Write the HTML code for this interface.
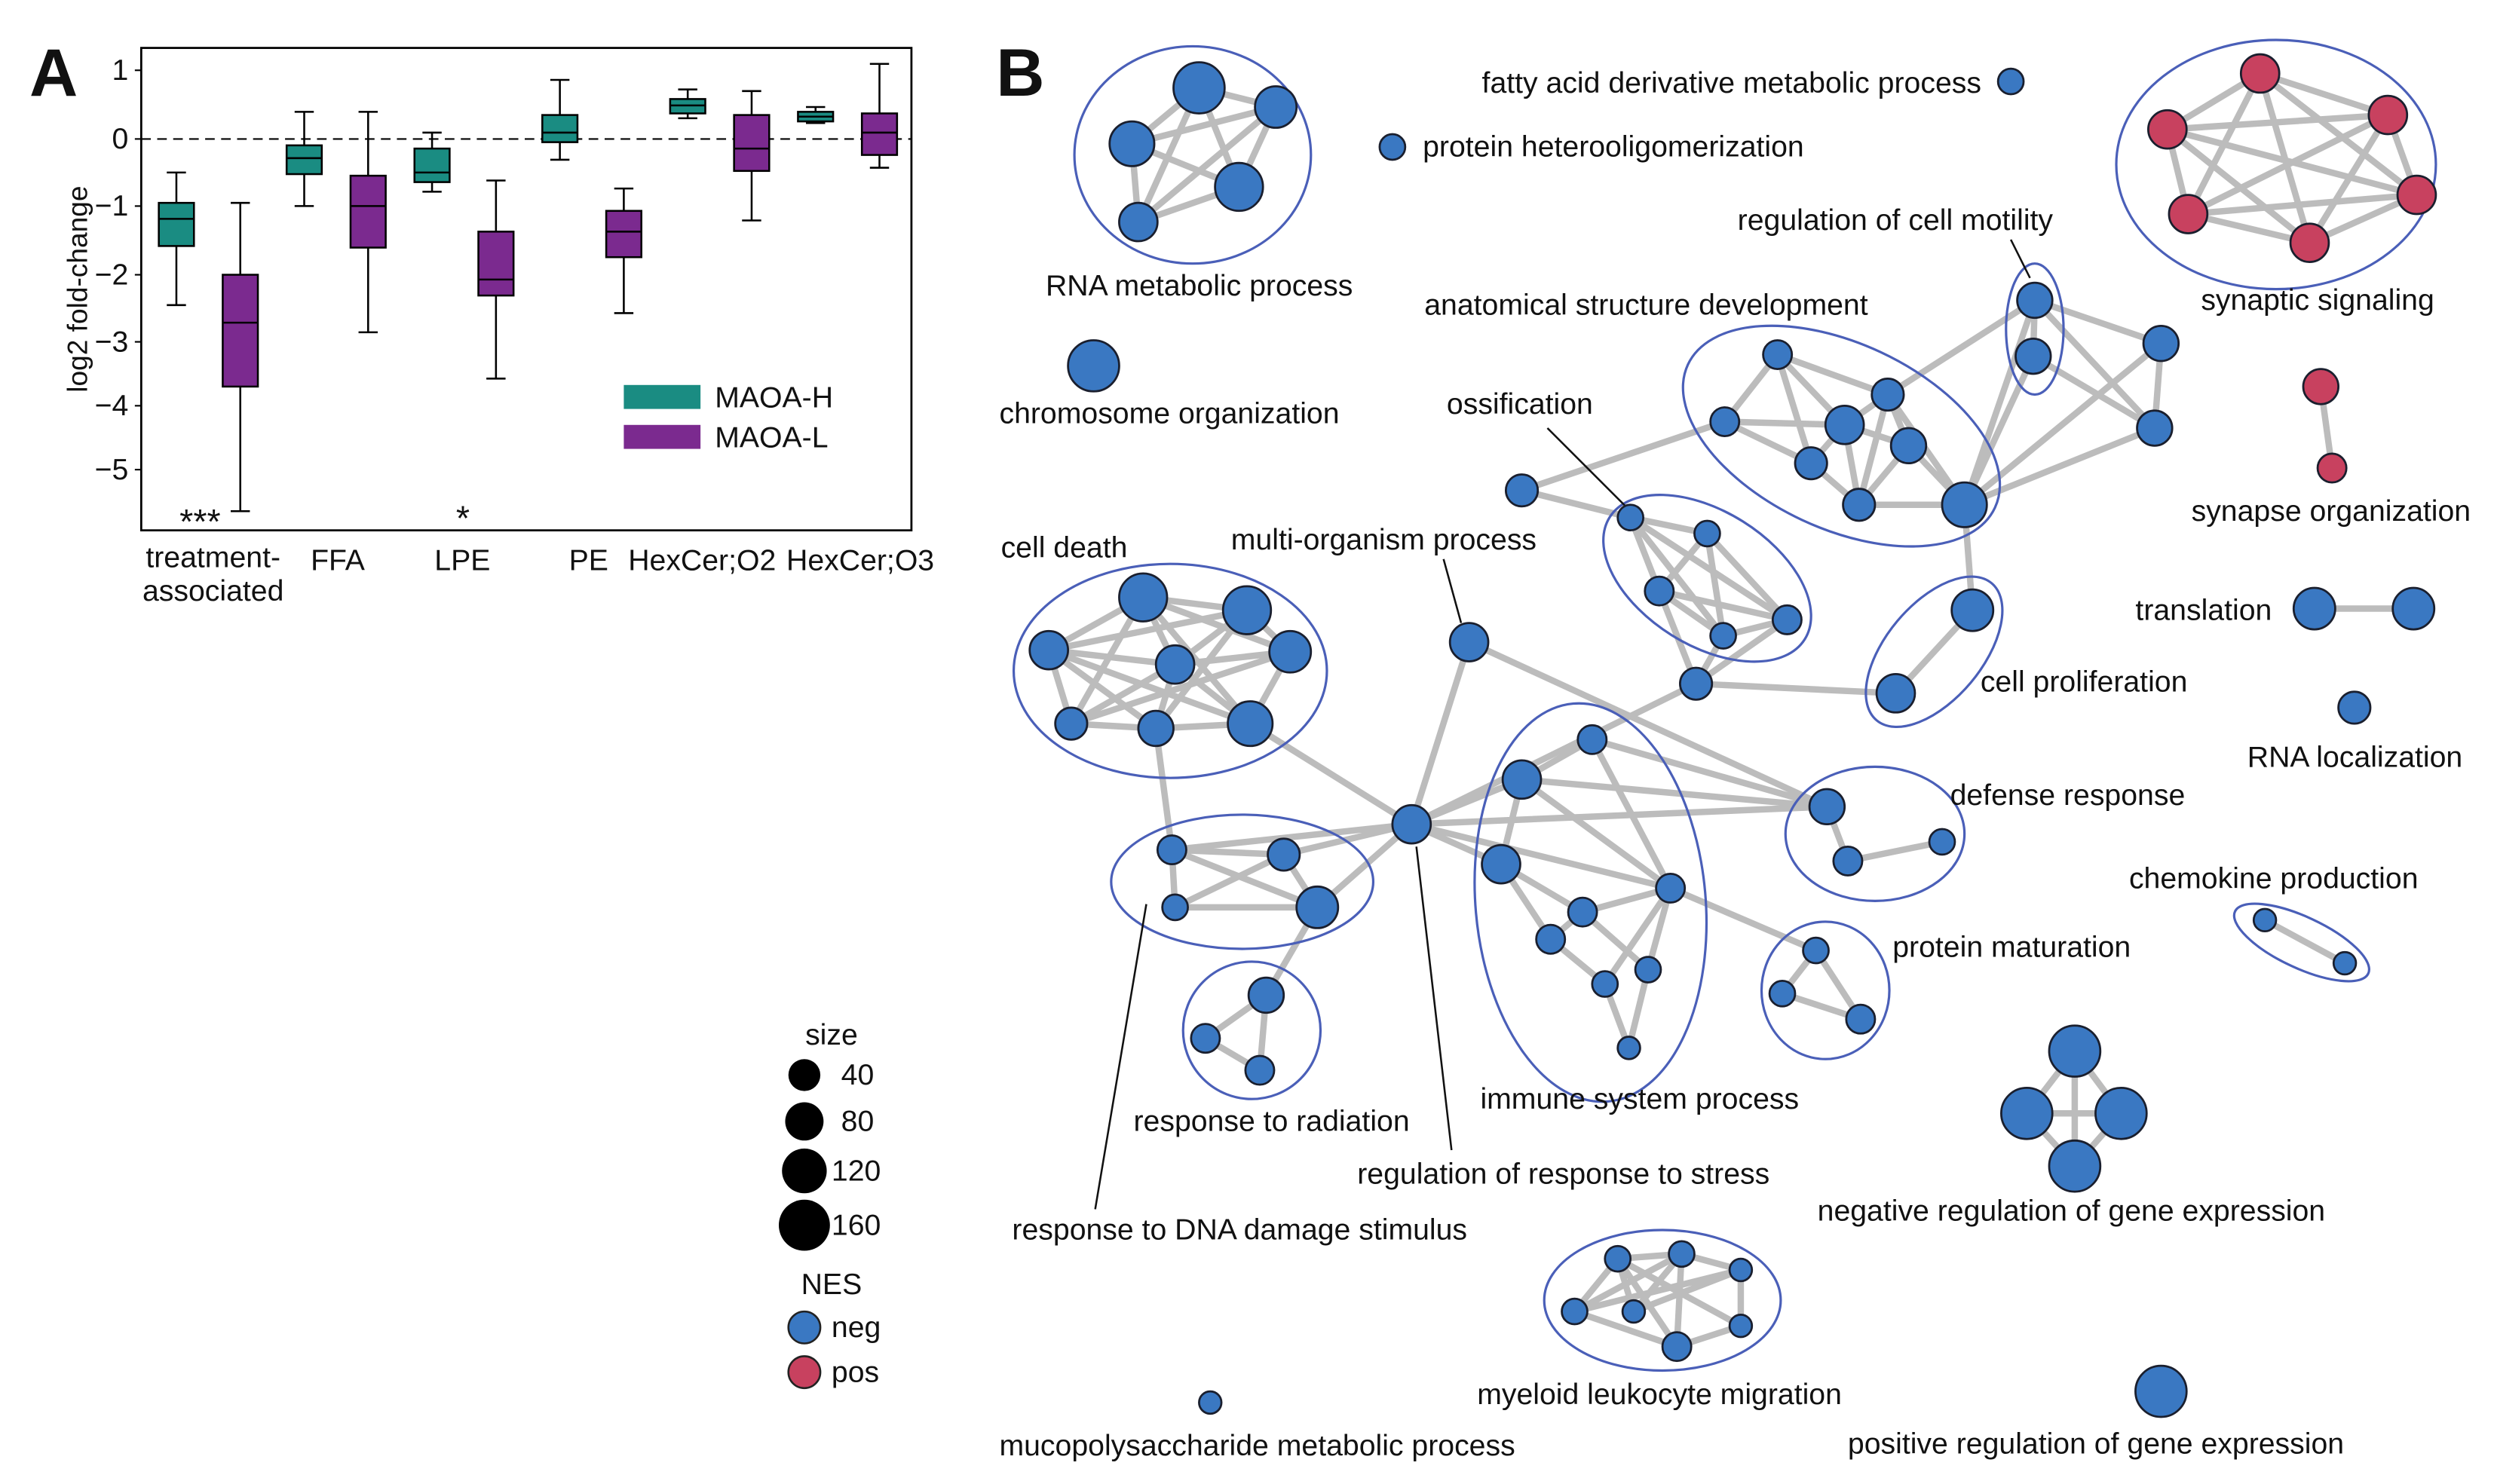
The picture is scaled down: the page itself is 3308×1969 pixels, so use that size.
<!DOCTYPE html>
<html><head><meta charset="utf-8"><style>
html,body{margin:0;padding:0;background:#fff;}
svg{display:block;}
text{font-family:"Liberation Sans",Arial,sans-serif;fill:#111;}
</style></head><body>
<svg width="3308" height="1969" viewBox="0 0 1560 929" xmlns="http://www.w3.org/2000/svg">
<rect width="1560" height="929" fill="#fff"/>
<!-- Panel A -->
<text x="18" y="60" font-size="42" font-weight="bold">A</text>
<rect x="88" y="30" width="482" height="302" fill="none" stroke="#000" stroke-width="1.3"/>
<line x1="88" y1="87" x2="570" y2="87" stroke="#000" stroke-dasharray="6,4" stroke-width="1"/>
<g font-size="18.5" text-anchor="end">
<text x="80" y="50">1</text><text x="80" y="93">0</text><text x="80" y="135">−1</text>
<text x="80" y="178">−2</text><text x="80" y="220">−3</text><text x="80" y="260">−4</text><text x="80" y="300">−5</text>
</g>
<g stroke="#000"><line x1="84" y1="44" x2="88" y2="44"/><line x1="84" y1="87" x2="88" y2="87"/><line x1="84" y1="129" x2="88" y2="129"/><line x1="84" y1="172" x2="88" y2="172"/><line x1="84" y1="214" x2="88" y2="214"/><line x1="84" y1="254" x2="88" y2="254"/><line x1="84" y1="294" x2="88" y2="294"/></g>
<text transform="translate(54,181) rotate(-90)" font-size="17.5" text-anchor="middle">log2 fold-change</text>
<g stroke="#000" stroke-width="1.2">
<line x1="110" y1="108" x2="110" y2="191"/><line x1="104" y1="108" x2="116" y2="108"/><line x1="104" y1="191" x2="116" y2="191"/><rect x="99" y="127" width="22" height="27" fill="#1a8c82"/><line x1="99" y1="137" x2="121" y2="137"/>
<line x1="150" y1="127" x2="150" y2="320"/><line x1="144" y1="127" x2="156" y2="127"/><line x1="144" y1="320" x2="156" y2="320"/><rect x="139" y="172" width="22" height="70" fill="#7b2a8f"/><line x1="139" y1="202" x2="161" y2="202"/>
<line x1="190" y1="70" x2="190" y2="129"/><line x1="184" y1="70" x2="196" y2="70"/><line x1="184" y1="129" x2="196" y2="129"/><rect x="179" y="91" width="22" height="18" fill="#1a8c82"/><line x1="179" y1="99" x2="201" y2="99"/>
<line x1="230" y1="70" x2="230" y2="208"/><line x1="224" y1="70" x2="236" y2="70"/><line x1="224" y1="208" x2="236" y2="208"/><rect x="219" y="110" width="22" height="45" fill="#7b2a8f"/><line x1="219" y1="129" x2="241" y2="129"/>
<line x1="270" y1="83" x2="270" y2="120"/><line x1="264" y1="83" x2="276" y2="83"/><line x1="264" y1="120" x2="276" y2="120"/><rect x="259" y="93" width="22" height="21" fill="#1a8c82"/><line x1="259" y1="108" x2="281" y2="108"/>
<line x1="310" y1="113" x2="310" y2="237"/><line x1="304" y1="113" x2="316" y2="113"/><line x1="304" y1="237" x2="316" y2="237"/><rect x="299" y="145" width="22" height="40" fill="#7b2a8f"/><line x1="299" y1="175" x2="321" y2="175"/>
<line x1="350" y1="50" x2="350" y2="100"/><line x1="344" y1="50" x2="356" y2="50"/><line x1="344" y1="100" x2="356" y2="100"/><rect x="339" y="72" width="22" height="17" fill="#1a8c82"/><line x1="339" y1="83" x2="361" y2="83"/>
<line x1="390" y1="118" x2="390" y2="196"/><line x1="384" y1="118" x2="396" y2="118"/><line x1="384" y1="196" x2="396" y2="196"/><rect x="379" y="132" width="22" height="29" fill="#7b2a8f"/><line x1="379" y1="145" x2="401" y2="145"/>
<line x1="430" y1="56" x2="430" y2="74"/><line x1="424" y1="56" x2="436" y2="56"/><line x1="424" y1="74" x2="436" y2="74"/><rect x="419" y="62" width="22" height="9" fill="#1a8c82"/><line x1="419" y1="66" x2="441" y2="66"/>
<line x1="470" y1="57" x2="470" y2="138"/><line x1="464" y1="57" x2="476" y2="57"/><line x1="464" y1="138" x2="476" y2="138"/><rect x="459" y="72" width="22" height="35" fill="#7b2a8f"/><line x1="459" y1="93" x2="481" y2="93"/>
<line x1="510" y1="67" x2="510" y2="77"/><line x1="504" y1="67" x2="516" y2="67"/><line x1="504" y1="77" x2="516" y2="77"/><rect x="499" y="70" width="22" height="6" fill="#1a8c82"/><line x1="499" y1="73" x2="521" y2="73"/>
<line x1="550" y1="40" x2="550" y2="105"/><line x1="544" y1="40" x2="556" y2="40"/><line x1="544" y1="105" x2="556" y2="105"/><rect x="539" y="71" width="22" height="26" fill="#7b2a8f"/><line x1="539" y1="83" x2="561" y2="83"/>
</g>
<text x="112" y="334" font-size="22">***</text>
<text x="285" y="332" font-size="22">*</text>
<rect x="390" y="241" width="48" height="15" fill="#1a8c82"/><text x="447" y="255" font-size="18.5">MAOA-H</text>
<rect x="390" y="266" width="48" height="15" fill="#7b2a8f"/><text x="447" y="280" font-size="18.5">MAOA-L</text>
<g font-size="18.5" text-anchor="middle">
<text x="133" y="355">treatment-</text><text x="133" y="376">associated</text>
<text x="211" y="357">FFA</text><text x="289" y="357">LPE</text><text x="368" y="357">PE</text>
<text x="439" y="357">HexCer;O2</text><text x="538" y="357">HexCer;O3</text>
</g>
<!-- size legend -->
<text x="520" y="654" font-size="18.5" text-anchor="middle">size</text>
<circle cx="503" cy="673" r="10" fill="#000"/><text x="526" y="679" font-size="18.5">40</text>
<circle cx="503" cy="702" r="12" fill="#000"/><text x="526" y="708" font-size="18.5">80</text>
<circle cx="503" cy="733" r="14" fill="#000"/><text x="520" y="739" font-size="18.5">120</text>
<circle cx="503" cy="767" r="16" fill="#000"/><text x="520" y="773" font-size="18.5">160</text>
<text x="520" y="810" font-size="18.5" text-anchor="middle">NES</text>
<circle cx="503" cy="831" r="10" fill="#3a78c2" stroke="#222" stroke-width="1.2"/><text x="520" y="837" font-size="18.5">neg</text>
<circle cx="503" cy="859" r="10" fill="#c8415f" stroke="#222" stroke-width="1.2"/><text x="520" y="865" font-size="18.5">pos</text>

<!-- Panel B -->
<text x="623" y="60" font-size="42" font-weight="bold">B</text>
<g stroke="#bcbcbc" stroke-width="4" fill="none">
<path d="M750 55L708 90L775 117L712 139L708 90M750 55L798 67L775 117L750 55L712 139M798 67L708 90M798 67L712 139"/>
<path d="M1414 46L1494 72L1512 122L1445 152L1369 134L1356 81L1414 46L1512 122L1369 134L1494 72L1445 152L1356 81L1512 122M1414 46L1445 152M1414 46L1369 134M1494 72L1356 81"/>
<path d="M1452 242L1459 293M1448 381L1510 381"/>
<path d="M1417 576L1467 603"/>
<path d="M1298 658L1268 697L1298 730L1327 697L1298 658L1298 730M1268 697L1327 697"/>
<path d="M1012 788L1052 785L1089 795L1089 830L1049 843L985 821L1012 788L1049 843M1052 785L985 821M1022 821L1052 785M1022 821L1089 795M1012 788L1089 830M985 821L1089 795M1052 785L1049 843M1012 788L1022 821"/>
<path d="M1112 222L1154 266L1181 247L1112 222L1079 264L1154 266L1133 290L1079 264M1154 266L1194 279L1229 316L1163 316L1133 290M1181 247L1194 279M1181 247L1229 316M1154 266L1163 316M1194 279L1163 316M1112 222L1133 290M1181 247L1163 316"/>
<path d="M1273 188L1272 223M1273 188L1352 215L1348 268L1272 223M1273 188L1348 268M1229 316L1273 188M1229 316L1352 215M1229 316L1348 268M1181 247L1273 188M1229 316L1272 223"/>
<path d="M952 307L1079 264M952 307L1020 324M1229 316L1234 382L1186 434L1061 428"/>
<path d="M1020 324L1068 334L1118 388L1078 398L1038 370L1020 324L1078 398M1068 334L1038 370L1118 388M1068 334L1078 398M1020 324L1118 388M1078 398L1061 428L1038 370M1118 388L1061 428"/>
<path d="M715 374L780 382L807 408L782 453L723 456L670 453L656 407L715 374L735 416L780 382M656 407L735 416L807 408M670 453L735 416L782 453M723 456L735 416M715 374L782 453M780 382L723 456M656 407L782 453M715 374L807 408M656 407L780 382M670 453L807 408M715 374L670 453M656 407L723 456"/>
<path d="M782 453L883 516M919 402L883 516M883 516L1061 428M883 516L733 532M883 516L803 535M883 516L824 568M883 516L952 488M883 516L939 541M883 516L1045 556M883 516L1143 505M919 402L1143 505"/>
<path d="M733 532L803 535L824 568L735 568L733 532L824 568M803 535L735 568M733 532L723 456M824 568L792 623"/>
<path d="M792 623L754 650L788 670L792 623"/>
<path d="M996 463L952 488L939 541L990 571L1045 556L952 488M996 463L1143 505M952 488L1143 505M939 541L970 588L1004 616L1019 656L1031 607L1045 556L1004 616M990 571L1031 607M990 571L970 588M1045 556L1136 595M939 541L990 571M996 463L1045 556"/>
<path d="M1143 505L1156 539L1215 527M1136 595L1115 622L1164 638L1136 595"/>
</g>
<g fill="none" stroke="#4a5fb8" stroke-width="1.5">
<ellipse cx="746" cy="97" rx="74" ry="68"/>
<ellipse cx="1424" cy="103" rx="100" ry="78"/>
<ellipse cx="1440" cy="590" rx="46" ry="16" transform="rotate(25 1440 590)"/>
<ellipse cx="1040" cy="814" rx="74" ry="44"/>
<ellipse cx="1152" cy="273" rx="106" ry="58" transform="rotate(25 1152 273)"/>
<ellipse cx="1273" cy="206" rx="18" ry="41"/>
<ellipse cx="1068" cy="362" rx="72" ry="42" transform="rotate(32 1068 362)"/>
<ellipse cx="1210" cy="408" rx="30" ry="56" transform="rotate(40 1210 408)"/>
<ellipse cx="732" cy="420" rx="98" ry="67"/>
<ellipse cx="777" cy="552" rx="82" ry="42"/>
<ellipse cx="783" cy="645" rx="43" ry="43"/>
<ellipse cx="995" cy="565" rx="72" ry="125" transform="rotate(-5 995 565)"/>
<ellipse cx="1173" cy="522" rx="56" ry="42"/>
<ellipse cx="1142" cy="620" rx="40" ry="43"/>
</g>
<g stroke="#111" stroke-width="1.2" fill="none">
<line x1="1258" y1="150" x2="1270" y2="174"/>
<line x1="968" y1="268" x2="1018" y2="318"/>
<line x1="903" y1="350" x2="914" y2="390"/>
<line x1="685" y1="757" x2="717" y2="566"/>
<line x1="908" y1="720" x2="886" y2="530"/>
</g>
<g fill="#3a78c2" stroke="#1a1f2e" stroke-width="1.3">
<circle cx="750" cy="55" r="16"/><circle cx="708" cy="90" r="14"/><circle cx="798" cy="67" r="13"/><circle cx="775" cy="117" r="15"/><circle cx="712" cy="139" r="12"/>
<circle cx="1258" cy="51" r="8"/><circle cx="871" cy="92" r="8"/><circle cx="684" cy="229" r="16"/>
<circle cx="1448" cy="381" r="13"/><circle cx="1510" cy="381" r="13"/><circle cx="1473" cy="443" r="10"/>
<circle cx="1417" cy="576" r="7"/><circle cx="1467" cy="603" r="7"/>
<circle cx="1298" cy="658" r="16"/><circle cx="1268" cy="697" r="16"/><circle cx="1327" cy="697" r="16"/><circle cx="1298" cy="730" r="16"/>
<circle cx="1352" cy="871" r="16"/>
<circle cx="1012" cy="788" r="8"/><circle cx="1052" cy="785" r="8"/><circle cx="1089" cy="795" r="7"/><circle cx="985" cy="821" r="8"/><circle cx="1022" cy="821" r="7"/><circle cx="1089" cy="830" r="7"/><circle cx="1049" cy="843" r="9"/>
<circle cx="757" cy="878" r="7"/>
<circle cx="1112" cy="222" r="9"/><circle cx="1079" cy="264" r="9"/><circle cx="1154" cy="266" r="12"/><circle cx="1181" cy="247" r="10"/><circle cx="1194" cy="279" r="11"/><circle cx="1133" cy="290" r="10"/><circle cx="1163" cy="316" r="10"/><circle cx="1229" cy="316" r="14"/>
<circle cx="1273" cy="188" r="11"/><circle cx="1272" cy="223" r="11"/><circle cx="1352" cy="215" r="11"/><circle cx="1348" cy="268" r="11"/>
<circle cx="952" cy="307" r="10"/>
<circle cx="1020" cy="324" r="8"/><circle cx="1068" cy="334" r="8"/><circle cx="1038" cy="370" r="9"/><circle cx="1118" cy="388" r="9"/><circle cx="1078" cy="398" r="8"/>
<circle cx="1061" cy="428" r="10"/>
<circle cx="1234" cy="382" r="13"/><circle cx="1186" cy="434" r="12"/>
<circle cx="919" cy="402" r="12"/>
<circle cx="715" cy="374" r="15"/><circle cx="780" cy="382" r="15"/><circle cx="656" cy="407" r="12"/><circle cx="735" cy="416" r="12"/><circle cx="807" cy="408" r="13"/><circle cx="670" cy="453" r="10"/><circle cx="723" cy="456" r="11"/><circle cx="782" cy="453" r="14"/>
<circle cx="883" cy="516" r="12"/>
<circle cx="733" cy="532" r="9"/><circle cx="803" cy="535" r="10"/><circle cx="735" cy="568" r="8"/><circle cx="824" cy="568" r="13"/>
<circle cx="792" cy="623" r="11"/><circle cx="754" cy="650" r="9"/><circle cx="788" cy="670" r="9"/>
<circle cx="996" cy="463" r="9"/><circle cx="952" cy="488" r="12"/><circle cx="939" cy="541" r="12"/><circle cx="1045" cy="556" r="9"/><circle cx="990" cy="571" r="9"/><circle cx="970" cy="588" r="9"/><circle cx="1004" cy="616" r="8"/><circle cx="1031" cy="607" r="8"/><circle cx="1019" cy="656" r="7"/>
<circle cx="1143" cy="505" r="11"/><circle cx="1156" cy="539" r="9"/><circle cx="1215" cy="527" r="8"/>
<circle cx="1136" cy="595" r="8"/><circle cx="1115" cy="622" r="8"/><circle cx="1164" cy="638" r="9"/>
</g>
<g fill="#c8415f" stroke="#1a1f2e" stroke-width="1.3">
<circle cx="1414" cy="46" r="12"/><circle cx="1494" cy="72" r="12"/><circle cx="1512" cy="122" r="12"/><circle cx="1445" cy="152" r="12"/><circle cx="1369" cy="134" r="12"/><circle cx="1356" cy="81" r="12"/>
<circle cx="1452" cy="242" r="11"/><circle cx="1459" cy="293" r="9"/>
</g>
<g font-size="18.5">
<text x="927" y="58">fatty acid derivative metabolic process</text>
<text x="890" y="98">protein heterooligomerization</text>
<text x="654" y="185">RNA metabolic process</text>
<text x="625" y="265">chromosome organization</text>
<text x="1087" y="144">regulation of cell motility</text>
<text x="891" y="197">anatomical structure development</text>
<text x="1377" y="194">synaptic signaling</text>
<text x="905" y="259">ossification</text>
<text x="1371" y="326">synapse organization</text>
<text x="626" y="349">cell death</text>
<text x="770" y="344">multi-organism process</text>
<text x="1336" y="388">translation</text>
<text x="1239" y="433">cell proliferation</text>
<text x="1406" y="480">RNA localization</text>
<text x="1220" y="504">defense response</text>
<text x="1332" y="556">chemokine production</text>
<text x="1184" y="599">protein maturation</text>
<text x="709" y="708">response to radiation</text>
<text x="926" y="694">immune system process</text>
<text x="849" y="741">regulation of response to stress</text>
<text x="1137" y="764">negative regulation of gene expression</text>
<text x="633" y="776">response to DNA damage stimulus</text>
<text x="924" y="879">myeloid leukocyte migration</text>
<text x="625" y="911">mucopolysaccharide metabolic process</text>
<text x="1156" y="910">positive regulation of gene expression</text>
</g>
</svg>
</body></html>
